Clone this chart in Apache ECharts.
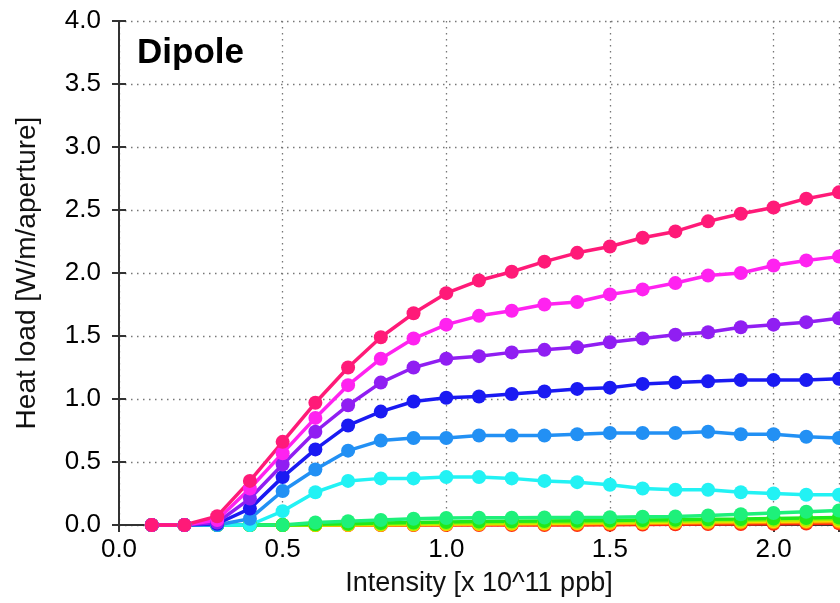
<!DOCTYPE html>
<html>
<head>
<meta charset="utf-8">
<title>Dipole heat load</title>
<script src="https://cdn.jsdelivr.net/npm/echarts@6/dist/echarts.min.js"></script>
<style>
  html, body { margin: 0; padding: 0; background: #fff; }
  #chart { width: 840px; height: 603px; }
</style>
</head>
<body>
<div id="chart"></div>
<script>
  // intensity [x 10^11 ppb]
  var intensity = [0.1, 0.2, 0.3, 0.4, 0.5, 0.6, 0.7, 0.8, 0.9, 1.0, 1.1,
                   1.2, 1.3, 1.4, 1.5, 1.6, 1.7, 1.8, 1.9, 2.0, 2.1, 2.2];

  // heat load curves, lowest first so the top curve is drawn last
  var redLoad    = [0, 0, 0, 0, 0, 0, 0, 0, 0, 0, 0, 0, 0, 0, 0.002, 0.004, 0.005, 0.007, 0.008, 0.01, 0.012, 0.014];
  var orangeLoad = [0, 0, 0, 0, 0, 0, 0, 0, 0.002, 0.004, 0.005, 0.007, 0.008, 0.01, 0.012, 0.014, 0.016, 0.018, 0.02, 0.022, 0.024, 0.026];
  var yellowLoad = [0, 0, 0, 0, 0, 0, 0.002, 0.004, 0.006, 0.008, 0.01, 0.012, 0.014, 0.016, 0.018, 0.02, 0.022, 0.025, 0.027, 0.03, 0.032, 0.035];
  var limeLoad   = [0, 0, 0, 0, 0, 0.002, 0.005, 0.008, 0.01, 0.013, 0.015, 0.018, 0.02, 0.022, 0.025, 0.028, 0.03, 0.033, 0.036, 0.04, 0.042, 0.045];
  var greenLoad  = [0, 0, 0, 0, 0, 0.005, 0.01, 0.015, 0.02, 0.024, 0.027, 0.03, 0.032, 0.034, 0.036, 0.039, 0.042, 0.045, 0.048, 0.052, 0.056, 0.06];
  var mintLoad   = [0, 0, 0, 0, 0, 0.02, 0.03, 0.04, 0.05, 0.055, 0.057, 0.058, 0.059, 0.06, 0.062, 0.065, 0.068, 0.075, 0.085, 0.095, 0.105, 0.115];
  var cyanLoad   = [0, 0, 0, 0, 0.11, 0.26, 0.35, 0.37, 0.37, 0.38, 0.38, 0.37, 0.35, 0.34, 0.32, 0.29, 0.28, 0.28, 0.26, 0.25, 0.24, 0.24];
  var azureLoad  = [0, 0, 0, 0.05, 0.27, 0.44, 0.59, 0.67, 0.69, 0.69, 0.71, 0.71, 0.71, 0.72, 0.73, 0.73, 0.73, 0.74, 0.72, 0.72, 0.70, 0.69];
  var blueLoad   = [0, 0, 0.01, 0.13, 0.38, 0.60, 0.79, 0.90, 0.98, 1.01, 1.02, 1.04, 1.06, 1.08, 1.09, 1.12, 1.13, 1.14, 1.15, 1.15, 1.15, 1.16];
  var purpleLoad = [0, 0, 0.02, 0.21, 0.48, 0.74, 0.95, 1.13, 1.25, 1.32, 1.34, 1.37, 1.39, 1.41, 1.45, 1.48, 1.51, 1.53, 1.57, 1.59, 1.61, 1.64];
  var magentaLoad = [0, 0, 0.04, 0.29, 0.57, 0.85, 1.11, 1.32, 1.48, 1.59, 1.66, 1.70, 1.75, 1.77, 1.83, 1.87, 1.92, 1.98, 2.00, 2.06, 2.10, 2.13];
  var pinkLoad   = [0, 0, 0.07, 0.35, 0.66, 0.97, 1.25, 1.49, 1.68, 1.84, 1.94, 2.01, 2.09, 2.16, 2.21, 2.28, 2.33, 2.41, 2.47, 2.52, 2.59, 2.64];

  var curves = [
    { name: 'r1', color: '#ff2a10', values: redLoad },
    { name: 'r2', color: '#ff8a00', values: orangeLoad },
    { name: 'r3', color: '#ffd800', values: yellowLoad },
    { name: 'r4', color: '#a8f000', values: limeLoad },
    { name: 'r5', color: '#22e81a', values: greenLoad },
    { name: 'r6', color: '#1ef07a', values: mintLoad },
    { name: 'r7', color: '#22f2f4', values: cyanLoad },
    { name: 'r8', color: '#2290f4', values: azureLoad },
    { name: 'r9', color: '#1a1af2', values: blueLoad },
    { name: 'r10', color: '#901ef2', values: purpleLoad },
    { name: 'r11', color: '#ff22f0', values: magentaLoad },
    { name: 'r12', color: '#ff1a78', values: pinkLoad }
  ];

  var font = '"Liberation Sans", Arial, Helvetica, sans-serif';
  var frameColor = '#333333';
  var dotted = { color: '#777777', width: 1.3, type: [1.5, 4.5] };

  function oneDecimal(v) { return v.toFixed(1); }

  var chart = echarts.init(document.getElementById('chart'));
  chart.setOption({
    animation: false,
    backgroundColor: '#ffffff',
    title: {
      text: 'Dipole',
      left: 137,
      top: 36,
      padding: 0,
      textStyle: { fontFamily: font, fontSize: 35, fontWeight: 'bold', color: '#000' }
    },
    grid: { left: 119, right: 1, top: 21, bottom: 78 },
    xAxis: [
      {
        type: 'value', min: 0, max: 2.2, interval: 0.5,
        name: 'Intensity [x 10^11 ppb]', nameLocation: 'middle', nameGap: 45,
        nameTextStyle: { fontFamily: font, fontSize: 27, color: '#111' },
        axisLine: { show: true, lineStyle: { color: frameColor, width: 2 } },
        axisTick: { show: true, inside: true, length: 7, lineStyle: { color: frameColor, width: 2 } },
        axisLabel: { fontFamily: font, fontSize: 26, color: '#000', margin: 12, formatter: oneDecimal, showMaxLabel: false },
        splitLine: { show: true, lineStyle: dotted }
      },
      {
        type: 'value', position: 'top', min: 0, max: 2.2, interval: 0.5,
        axisLine: { show: true, lineStyle: { color: frameColor, width: 2 } },
        axisTick: { show: true, inside: true, length: 7, lineStyle: { color: frameColor, width: 2 } },
        axisLabel: { show: false },
        splitLine: { show: false }
      }
    ],
    yAxis: [
      {
        type: 'value', min: 0, max: 4, interval: 0.5,
        name: 'Heat load [W/m/aperture]', nameLocation: 'middle', nameGap: 78,
        nameTextStyle: { fontFamily: font, fontSize: 28, color: '#111' },
        axisLine: { show: true, lineStyle: { color: frameColor, width: 2 } },
        axisTick: { show: true, inside: true, length: 7, lineStyle: { color: frameColor, width: 2 } },
        axisLabel: { fontFamily: font, fontSize: 26, color: '#000', margin: 18, formatter: oneDecimal },
        splitLine: { show: true, lineStyle: dotted }
      },
      {
        type: 'value', position: 'right', min: 0, max: 4, interval: 0.5,
        axisLine: { show: true, lineStyle: { color: frameColor, width: 2 } },
        axisTick: { show: true, inside: true, length: 7, lineStyle: { color: frameColor, width: 2 } },
        axisLabel: { show: false },
        splitLine: { show: false }
      }
    ],
    series: curves.map(function (c) {
      return {
        name: c.name,
        type: 'line',
        xAxisIndex: 0,
        yAxisIndex: 0,
        data: intensity.map(function (x, i) { return [x, c.values[i]]; }),
        symbol: 'circle',
        symbolSize: 14,
        clip: false,
        lineStyle: { color: c.color, width: 3.5 },
        itemStyle: { color: c.color }
      };
    })
  });
</script>
</body>
</html>
